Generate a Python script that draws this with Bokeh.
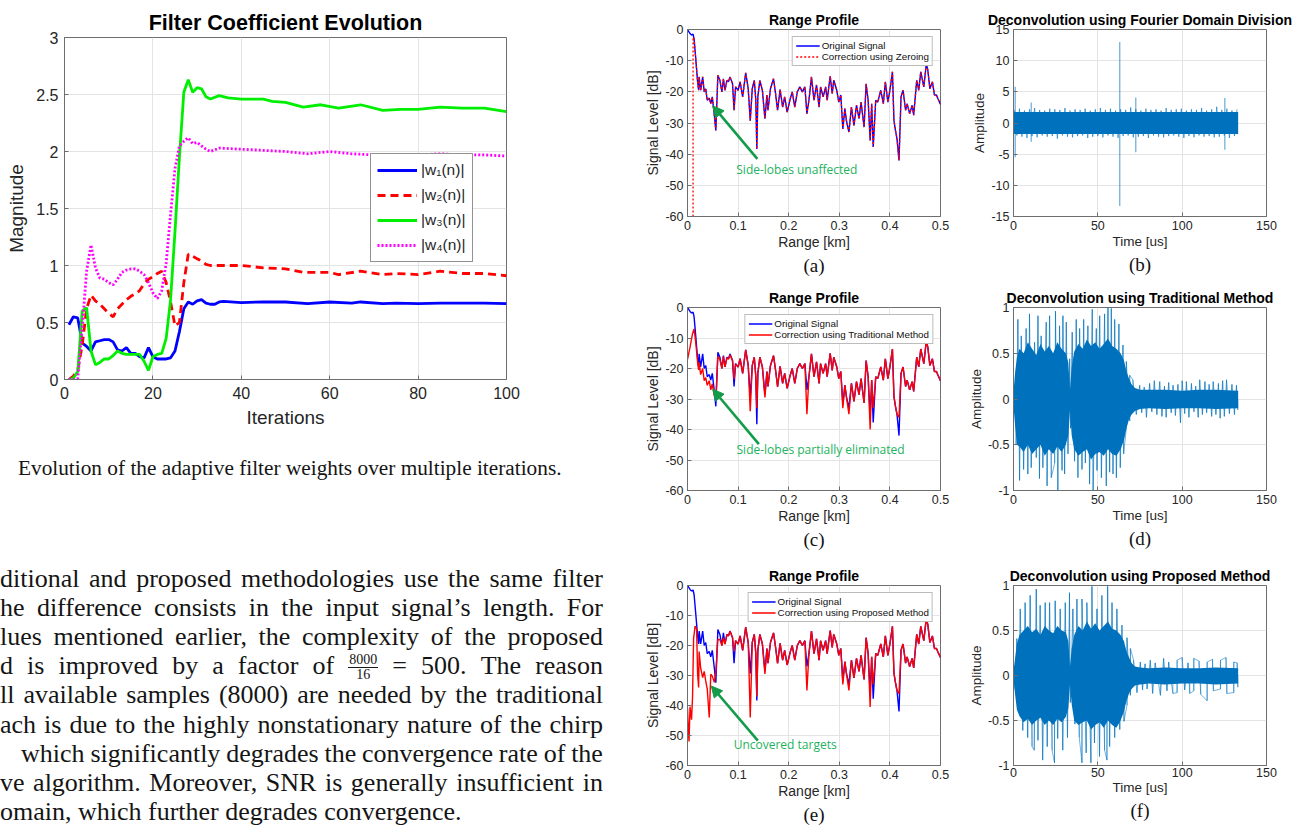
from bokeh.plotting import figure
from bokeh.layouts import row, column
from bokeh.models import FixedTicker, Arrow, NormalHead, Label, Title, Div, Range1d
from bokeh.embed import file_html
from bokeh.resources import INLINE

# ---------------- data: filter coefficient evolution ----------------
iter_ticks = [0, 20, 40, 60, 80, 100]
iter_tick_labels = ["0", "20", "40", "60", "80", "100"]
mag_ticks = [0, 0.5, 1, 1.5, 2, 2.5, 3]
mag_tick_labels = ["0", "0.5", "1", "1.5", "2", "2.5", "3"]
weight_labels = ["|w\u2081(n)|", "|w\u2082(n)|", "|w\u2083(n)|", "|w\u2084(n)|"]

w1_iter = [1, 2, 3, 4, 5, 6, 7, 8, 9, 10, 11, 12, 13, 14, 15, 16, 17, 18, 19, 20, 21, 22, 23, 24, 25,
           26, 27, 28, 29, 30, 31, 32, 33, 34, 35, 36, 40, 45, 50, 55, 60, 65, 67, 72, 75, 80, 85, 90, 95, 100]
w1_mag = [0.48, 0.55, 0.54, 0.32, 0.29, 0.25, 0.33, 0.34, 0.35, 0.35, 0.33, 0.26, 0.25, 0.28, 0.23, 0.23,
          0.20, 0.19, 0.28, 0.20, 0.18, 0.18, 0.18, 0.19, 0.25, 0.42, 0.62, 0.68, 0.66, 0.69, 0.70, 0.67,
          0.66, 0.66, 0.68, 0.685, 0.675, 0.68, 0.68, 0.665, 0.68, 0.67, 0.68, 0.665, 0.67, 0.665, 0.67,
          0.67, 0.67, 0.665]

w2_iter = [1, 2, 3, 4, 5, 6, 7, 8, 9, 10, 11, 12, 13, 14, 15, 16, 17, 18, 19, 20, 21, 22, 23, 24, 25,
           26, 27, 28, 29, 30, 31, 32, 33, 35, 40, 45, 50, 54, 60, 62, 67, 72, 75, 80, 85, 90, 95, 100]
w2_mag = [0.0, 0.03, 0.08, 0.3, 0.62, 0.74, 0.69, 0.66, 0.62, 0.58, 0.55, 0.62, 0.66, 0.7, 0.73, 0.75,
          0.78, 0.84, 0.88, 0.9, 0.93, 0.95, 0.85, 0.68, 0.47, 0.5, 0.85, 1.1, 1.08, 1.06, 1.04, 1.01,
          1.0, 1.0, 1.0, 0.98, 0.97, 0.94, 0.94, 0.92, 0.95, 0.92, 0.93, 0.92, 0.95, 0.93, 0.93, 0.91]

w3_iter = [1, 2, 3, 4, 5, 6, 7, 8, 9, 10, 11, 12, 13, 14, 15, 16, 17, 18, 19, 20, 21, 22, 23, 24, 25,
           26, 27, 28, 29, 30, 31, 32, 33, 35, 37, 40, 45, 47, 50, 54, 58, 62, 67, 72, 76, 80, 85, 90, 95, 100]
w3_mag = [0.0, 0.01, 0.07, 0.6, 0.63, 0.25, 0.13, 0.15, 0.18, 0.18, 0.21, 0.25, 0.23, 0.22, 0.22, 0.22,
          0.22, 0.16, 0.08, 0.2, 0.22, 0.23, 0.36, 0.7, 1.3, 1.95, 2.52, 2.63, 2.52, 2.56, 2.55, 2.48,
          2.46, 2.49, 2.47, 2.46, 2.46, 2.44, 2.43, 2.39, 2.41, 2.38, 2.41, 2.36, 2.37, 2.37, 2.39, 2.38,
          2.38, 2.35]

w4_iter = [1, 2, 3, 4, 5, 6, 7, 8, 9, 10, 11, 12, 13, 14, 15, 16, 17, 18, 19, 20, 21, 22, 23, 24, 25,
           26, 27, 28, 29, 30, 31, 32, 33, 35, 40, 45, 50, 55, 60, 65, 70, 75, 80, 85, 90, 95, 100]
w4_mag = [0.0, 0.0, 0.01, 0.45, 0.95, 1.18, 0.98, 0.89, 0.88, 0.85, 0.83, 0.88, 0.94, 0.96, 0.97, 0.97,
          0.95, 0.92, 0.85, 0.76, 0.71, 0.78, 1.02, 1.45, 1.85, 2.05, 2.09, 2.12, 2.07, 2.08, 2.05, 2.02,
          2.0, 2.03, 2.02, 2.01, 2.0, 1.98, 2.0, 1.98, 1.97, 1.97, 1.97, 1.98, 1.97, 1.97, 1.96]

# ---------------- data: range profiles ----------------
range_ticks = [0, 0.1, 0.2, 0.3, 0.4, 0.5]
range_tick_labels = ["0", "0.1", "0.2", "0.3", "0.4", "0.5"]
db_ticks = [-60, -50, -40, -30, -20, -10, 0]
db_tick_labels = ["-60", "-50", "-40", "-30", "-20", "-10", "0"]

orig_km = [0, 0.005, 0.008, 0.011, 0.013, 0.016, 0.02, 0.022, 0.023, 0.026,
           0.03, 0.033, 0.036, 0.039, 0.043, 0.046, 0.049, 0.053, 0.056, 0.06,
           0.064, 0.068, 0.071, 0.074, 0.078, 0.081, 0.084, 0.089, 0.092, 0.095,
           0.1, 0.104, 0.109, 0.115, 0.12, 0.124, 0.128, 0.132, 0.135, 0.137,
           0.139, 0.143, 0.148, 0.153, 0.157, 0.159, 0.164, 0.17, 0.174, 0.178,
           0.183, 0.188, 0.192, 0.197, 0.203, 0.207, 0.212, 0.217, 0.222, 0.227,
           0.232, 0.236, 0.24, 0.245, 0.25, 0.255, 0.26, 0.263, 0.268, 0.273,
           0.276, 0.282, 0.286, 0.289, 0.295, 0.299, 0.303, 0.307, 0.311, 0.314,
           0.319, 0.324, 0.329, 0.334, 0.339, 0.343, 0.349, 0.353, 0.357, 0.361,
           0.364, 0.367, 0.372, 0.376, 0.382, 0.387, 0.391, 0.396, 0.4, 0.405,
           0.408, 0.411, 0.414, 0.418, 0.422, 0.426, 0.431, 0.434, 0.439, 0.444,
           0.447, 0.453, 0.457, 0.461, 0.467, 0.472, 0.475, 0.479, 0.484, 0.488,
           0.492, 0.495, 0.5]
orig_db = [0, -1.3, -1.8, -1.5, -3, -8.8, -16.8, -19.5, -15.2, -19.5,
           -15.2, -20, -19, -22.7, -22, -23.8, -21.6, -27.5, -32.4, -14.7,
           -16.3, -20, -15.8, -19.5, -16.3, -16.8, -15.2, -17.4, -25.9, -18.4,
           -19.5, -16.8, -21.6, -13.9, -19, -29.3, -19, -16.3, -22.7, -38.3,
           -21.6, -16.3, -19.5, -28.6, -21, -25.9, -19, -15.8, -20.5, -25.9,
           -19.3, -24.9, -21.6, -26.5, -22.2, -20, -24.9, -20, -18.4, -20,
           -18.4, -27, -22.7, -15.2, -22.7, -17.8, -24.9, -18.4, -21.6, -18.4,
           -22.7, -15, -20.6, -16.3, -19.5, -23.3, -21, -31.9, -25.4, -29.2,
           -32.9, -24.9, -30.8, -24.3, -28.6, -23.3, -31.3, -17.4, -22.7, -35.6,
           -23.8, -37.7, -22.7, -23.3, -19.5, -23.8, -16.8, -23.3, -19.5, -13.6,
           -29.2, -32.4, -35, -42, -21.6, -19.5, -25.9, -23.8, -27, -24.3,
           -27.5, -16.3, -19.5, -13.6, -18.4, -10.9, -13.1, -19, -16.8, -21,
           -21, -22.2, -24]

# zeroing: first range cells set to floor, rest identical to original
zero_head_km = [0.011, 0.011]
zero_head_db = [-60, -2.5]

trad_head_km = [0, 0.005, 0.01, 0.013, 0.016]
trad_head_db = [-17, -13, -8.5, -7, -11]
trad_tail_db = [-18, -20.5, -18, -22,
                -20, -24, -23, -25.5, -24, -27, -25, -29, -30, -16,
                -17, -20, -16, -19.5, -16.5, -17, -15.5, -17.5, -23.5, -18.5,
                -19.5, -16.8, -21.6, -13.9, -19, -34, -19, -16.3, -22.7, -33,
                -21.6, -16.3, -19.5, -29.5, -21, -25.9, -19, -15.8, -20.5, -26,
                -19.3, -24.9, -21.6, -26.5, -22.2, -20, -24.9, -20, -18.4, -20,
                -18.4, -35, -22.7, -15.2, -22.7, -17.8, -24.9, -18.4, -21.6, -18.4,
                -22.7, -15, -20.6, -16.3, -19.5, -23.3, -21, -33, -25.4, -29.2,
                -35, -24.9, -30.8, -24.3, -28.6, -23.3, -31.3, -17.4, -22.7, -40,
                -23.8, -33, -22.7, -23.3, -19.5, -23.8, -16.8, -23.3, -19.5, -13.6,
                -29.2, -32.4, -35, -36, -21.6, -19.5, -25.9, -23.8, -27, -24.3,
                -27.5, -16.3, -19.5, -13.6, -18.4, -10.9, -13.1, -19, -16.8, -21,
                -21, -22.2, -24]

prop_head_km = [0, 0.002, 0.003, 0.005, 0.008, 0.01, 0.012, 0.015, 0.018]
prop_head_db = [-41, -49, -52, -40.4, -44.7, -37, -17.8, -13.5, -14.5]
prop_tail_db = [-29.6, -34, -22, -27.5,
                -30.7, -28.6, -31.8, -34.5, -44, -29.6, -30.2, -32.3, -29, -18,
                -18, -20, -17.5, -19.5, -16.3, -16.8, -15.2, -17.4, -22, -18.4,
                -19.5, -16.8, -21.6, -13.9, -19, -44, -19, -16.3, -22.7, -37,
                -21.6, -16.3, -19.5, -29.5, -21, -25.9, -19, -15.8, -20.5, -26,
                -19.3, -24.9, -21.6, -26.5, -22.2, -20, -24.9, -20, -18.4, -20,
                -18.4, -35, -22.7, -15.2, -22.7, -17.8, -24.9, -18.4, -21.6, -18.4,
                -22.7, -15, -20.6, -16.3, -19.5, -23.3, -21, -33, -25.4, -29.2,
                -35, -24.9, -30.8, -24.3, -28.6, -23.3, -31.3, -17.4, -22.7, -40.5,
                -23.8, -33, -22.7, -23.3, -19.5, -23.8, -16.8, -23.3, -19.5, -13.6,
                -29.2, -32.4, -35, -36, -21.6, -19.5, -25.9, -23.8, -27, -24.3,
                -27.5, -16.3, -19.5, -13.6, -18.4, -10.9, -13.1, -19, -16.8, -21,
                -21, -22.2, -24]

# ---------------- data: deconvolution outputs ----------------
time_ticks = [0, 50, 100, 150]
time_tick_labels = ["0", "50", "100", "150"]
fd_ticks = [-15, -10, -5, 0, 5, 10, 15]
fd_tick_labels = ["-15", "-10", "-5", "0", "5", "10", "15"]
amp_ticks = [-1, -0.5, 0, 0.5, 1]
amp_tick_labels = ["-1", "-0.5", "0", "0.5", "1"]

fd_core_t = [0, 133.2]
fd_core_hi = [1.75, 1.75]
fd_core_lo = [-1.75, -1.75]
fd_up_t = [0.5 + 3 * i for i in range(45)]
fd_up_v = [2.1, 2.3, 2.0, 2.2, 2.4, 2.1, 2.0, 2.3, 2.2, 2.1, 2.4, 2.0, 2.2, 2.1, 2.3,
           2.0, 2.2, 2.4, 2.1, 2.3, 2.0, 2.2, 2.1, 2.5, 2.2, 2.0, 2.3, 2.1, 2.2, 2.0,
           2.4, 2.1, 2.2, 2.3, 2.0, 2.2, 2.1, 2.4, 2.0, 2.2, 2.6, 2.1, 2.3, 2.0, 2.2]
fd_lo_t = [2.0 + 3 * i for i in range(44)]
fd_lo_v = [-2.0, -2.2, -2.4, -2.1, -2.3, -2.0, -2.2, -2.1, -2.5, -2.0, -2.2, -2.3, -2.1, -2.0, -2.4,
           -2.2, -2.1, -2.3, -2.0, -2.2, -2.4, -2.1, -2.0, -2.3, -2.2, -2.1, -2.4, -2.0, -2.2, -2.3,
           -2.1, -2.0, -2.2, -2.4, -2.1, -2.3, -2.0, -2.2, -2.1, -2.3, -2.2, -2.0, -2.4, -2.1]
fd_spike_t = [1, 10.5, 63, 72.5, 125.3]
fd_spike_hi = [5.8, 3.3, 13, 4.1, 4.0]
fd_spike_lo = [-5.5, -3.0, -13.3, -4.7, -4.3]

core_t = [0, 1, 2, 3.5, 6, 8.5, 11, 13.5, 16, 18.5, 21, 23.5, 26, 28.5, 31, 32.5, 33.5, 34.5, 36,
          38.5, 41, 43.5, 46, 48.5, 51, 53.5, 56, 58.5, 61, 63.5, 65.5, 67, 68.5, 70, 72, 75, 80,
          90, 100, 110, 120, 133.2]
trad_core_hi = [0.08, 0.3, 0.45, 0.55, 0.5, 0.62, 0.55, 0.48, 0.6, 0.52, 0.58, 0.5, 0.62, 0.55,
                0.5, 0.4, 0.1, 0.35, 0.52, 0.6, 0.55, 0.65, 0.58, 0.62, 0.55, 0.6, 0.66, 0.58, 0.55,
                0.5, 0.42, 0.3, 0.22, 0.16, 0.12, 0.1, 0.1, 0.1, 0.09, 0.1, 0.1, 0.09]
trad_core_lo = [-0.08, -0.3, -0.5, -0.52, -0.58, -0.5, -0.6, -0.55, -0.5, -0.62, -0.55, -0.6,
                -0.52, -0.58, -0.5, -0.4, -0.12, -0.4, -0.55, -0.62, -0.58, -0.55, -0.66, -0.6,
                -0.58, -0.62, -0.55, -0.6, -0.62, -0.55, -0.45, -0.32, -0.22, -0.17, -0.13, -0.11,
                -0.1, -0.11, -0.1, -0.1, -0.11, -0.1]
trad_up_t = [2.6, 4.6, 7.5, 9.5, 12.5, 14.5, 16.4, 19.4, 21.4, 24.9, 27.3, 29.3, 31.3, 33.3, 34.8,
             37.2, 39.2, 41.6, 44.1, 46.7, 49.1, 51.1, 54, 56, 58, 60, 62.5, 64.9, 66.9, 68.9, 70.8,
             74.8, 77.5, 80.7, 83.5, 86.7, 89.5, 92, 94.6, 97.5, 100, 102.5, 105.5, 108, 110.4,
             113.5, 116, 118.4, 121.5, 124, 126.3, 129.5, 132.2]
trad_up_v = [0.87, 0.69, 0.77, 0.93, 0.62, 0.91, 0.69, 0.84, 0.91, 0.96, 0.80, 0.91, 0.84, 0.44, 0.73,
             0.87, 0.77, 0.87, 0.80, 0.98, 0.77, 0.91, 0.93, 1.0, 0.99, 0.87, 0.82, 0.59, 0.41, 0.26,
             0.21, 0.15, 0.13, 0.17, 0.2, 0.19, 0.14, 0.18, 0.15, 0.16, 0.2, 0.19, 0.17, 0.14, 0.21,
             0.19, 0.16, 0.19, 0.17, 0.2, 0.21, 0.16, 0.15]
trad_lo_t = [1.5, 3.6, 6.0, 8.5, 10.5, 13.5, 15.4, 17.4, 19.9, 22.4, 24.4, 26.3, 28.8, 30.3, 32.3,
             33.8, 36.2, 38.2, 40.6, 42.6, 45.1, 47.2, 49.5, 52.1, 55, 57, 59, 61, 63.3, 65.3, 66.9,
             68.9, 72.8, 76, 78.8, 82, 85, 88, 90.5, 93.5, 96, 99, 101.5, 104, 107, 109.5, 112,
             114.5, 117.5, 120, 122.5, 125, 128, 131, 133]
trad_lo_v = [-0.5, -0.89, -0.77, -0.82, -0.75, -0.64, -0.87, -0.75, -0.95, -0.86, -0.7, -1.0, -0.78,
             -0.82, -0.6, -0.32, -0.68, -0.86, -0.77, -0.7, -0.93, -1.0, -0.78, -0.86, -0.95, -0.8,
             -0.82, -0.86, -0.75, -0.6, -0.32, -0.24, -0.17, -0.15, -0.2, -0.14, -0.17, -0.19, -0.2,
             -0.15, -0.18, -0.26, -0.16, -0.2, -0.14, -0.2, -0.17, -0.15, -0.19, -0.17, -0.21, -0.19,
             -0.16, -0.17, -0.12]

prop_core_hi = [0.05, 0.2, 0.35, 0.45, 0.5, 0.55, 0.48, 0.52, 0.45, 0.55, 0.5, 0.47, 0.55, 0.5,
                0.48, 0.38, 0.1, 0.3, 0.45, 0.55, 0.5, 0.6, 0.52, 0.58, 0.5, 0.55, 0.6, 0.52, 0.5,
                0.45, 0.38, 0.27, 0.2, 0.14, 0.1, 0.09, 0.08, 0.09, 0.08, 0.08, 0.09, 0.08]
prop_core_lo = [-0.05, -0.22, -0.38, -0.45, -0.52, -0.48, -0.55, -0.5, -0.47, -0.55, -0.5, -0.55,
                -0.48, -0.52, -0.46, -0.36, -0.1, -0.32, -0.5, -0.55, -0.52, -0.5, -0.6, -0.55,
                -0.52, -0.58, -0.5, -0.55, -0.58, -0.5, -0.4, -0.28, -0.2, -0.15, -0.11, -0.1,
                -0.09, -0.1, -0.09, -0.09, -0.1, -0.09]
prop_up_t = [2, 4, 6.9, 9.9, 13.5, 15.8, 18.8, 21.4, 24.7, 27.7, 30.7, 33.2, 35.2, 37.6, 40.6, 43.5,
             46.5, 49.5, 52.4, 55.8, 58.4, 61.3, 64.3, 67.3, 69.3, 71.2, 75.2, 78, 81.1, 84, 89, 92,
             97, 100, 103.5, 106.9, 110, 114.8, 118, 122.7, 126, 130.6, 132.6]
prop_up_v = [0.41, 0.74, 0.81, 0.89, 0.96, 0.78, 0.81, 0.81, 0.83, 0.74, 0.81, 0.92, 0.74, 0.85, 0.85,
             0.81, 0.99, 0.74, 0.89, 0.99, 0.81, 0.74, 0.56, 0.42, 0.3, 0.17, 0.15, 0.13, 0.17, 0.14,
             0.19, 0.15, 0.17, 0.2, 0.14, 0.19, 0.16, 0.15, 0.18, 0.17, 0.2, 0.15, 0.14]
prop_lo_t = [1, 3, 5.5, 8.4, 11, 12.3, 14.5, 17.3, 20, 22.9, 24.3, 26.2, 29.2, 32, 33.7, 36.4, 39,
             40.6, 43.1, 45.9, 48, 51, 54, 55.4, 57, 60, 63, 65.5, 67.3, 69.3, 73.2, 76.5, 79.2, 82.5,
             87.1, 91, 94.5, 97, 101.5, 104.5, 106.9, 111, 114.8, 118.5, 122.7, 126.5, 130.6, 133]
prop_lo_v = [-0.15, -0.4, -0.61, -0.69, -0.79, -0.83, -0.72, -0.94, -0.79, -0.83, -0.97, -0.7, -0.83,
             -0.69, -0.3, -0.54, -0.69, -0.97, -0.86, -0.97, -0.75, -0.9, -0.83, -0.94, -0.79, -0.69,
             -0.6, -0.51, -0.33, -0.22, -0.19, -0.16, -0.15, -0.2, -0.22, -0.17, -0.2, -0.19, -0.16,
             -0.2, -0.17, -0.21, -0.28, -0.17, -0.15, -0.2, -0.19, -0.13]

# ---------------- text ----------------
caption = "Evolution of the adaptive filter weights over multiple iterations."
para_lines = [
    "ditional and proposed methodologies use the same filter",
    "he difference consists in the input signal\u2019s length. For",
    "lues mentioned earlier, the complexity of the proposed",
    "d is improved by a factor of {FRAC} = 500. The reason",
    "ll available samples (8000) are needed by the traditional",
    "ach is due to the highly nonstationary nature of the chirp",
    "which significantly degrades the convergence rate of the",
    "ve algorithm. Moreover, SNR is generally insufficient in",
    "omain, which further degrades convergence.",
]

# ---------------- styling helpers ----------------
SANS = "Liberation Sans"
SERIF = "Liberation Serif"
INK = "#262626"
BOX = "#6e6e6e"
GRID = "#e4e4e4"
MBLUE = "#0072BD"
G_ARROW = "#129c4a"
G_TEXT = "#22b35c"


def make_fig(w, h, bl, br, bt, bb, xr, yr, title, title_fs, tick_fs, lab_fs,
             xt, xtl, yt, ytl, xlab, ylab, tick_standoff=4, label_standoff=1):
    p = figure(width=w, height=h, x_range=Range1d(*xr), y_range=Range1d(*yr),
               output_backend="svg", toolbar_location=None,
               min_border_left=bl, min_border_right=br, min_border_top=bt, min_border_bottom=bb)
    p.title.text = title
    p.title.align = "center"
    p.title.text_font = SANS
    p.title.text_font_size = title_fs
    p.title.text_font_style = "bold"
    p.title.text_color = "#000000"
    p.title.standoff = 3
    p.background_fill_color = "white"
    p.border_fill_color = "white"
    p.outline_line_color = BOX
    p.outline_line_width = 1
    p.outline_line_alpha = 1
    for ax in (p.xaxis[0], p.yaxis[0]):
        ax.axis_line_color = BOX
        ax.major_tick_in = 4
        ax.major_tick_out = 0
        ax.major_tick_line_color = BOX
        ax.minor_tick_line_color = None
        ax.major_label_text_font = SANS
        ax.major_label_text_font_size = tick_fs
        ax.major_label_text_color = INK
        ax.major_label_standoff = 4
        ax.axis_label_text_font = SANS
        ax.axis_label_text_font_style = "normal"
        ax.axis_label_text_font_size = lab_fs
        ax.axis_label_text_color = INK
        ax.axis_label_standoff = 1
    p.xaxis.major_label_standoff = tick_standoff
    p.xaxis.axis_label_standoff = label_standoff
    p.xaxis.ticker = FixedTicker(ticks=xt)
    p.xaxis.major_label_overrides = {t: s for t, s in zip(xt, xtl)}
    p.yaxis.ticker = FixedTicker(ticks=yt)
    p.yaxis.major_label_overrides = {t: s for t, s in zip(yt, ytl)}
    p.xaxis.axis_label = xlab
    p.yaxis.axis_label = ylab
    p.xgrid.grid_line_color = GRID
    p.ygrid.grid_line_color = GRID
    return p


def add_tag(p, tag):
    p.add_layout(Title(text=tag, align="center", text_font=SERIF, text_font_size="19px",
                       text_font_style="normal", text_color="#111111", standoff=0), "below")


def zigzag(tu, vu, tl, vl):
    pts = sorted(list(zip(tu, vu)) + list(zip(tl, vl)))
    return [a for a, _ in pts], [b for _, b in pts]


# ---------------- left chart ----------------
pL = make_fig(640, 440, 64, 134, 37, 61, (0, 100), (0, 3), "Filter Coefficient Evolution", "21.5px",
              "16px", "19px", iter_ticks, iter_tick_labels, mag_ticks, mag_tick_labels,
              "Iterations", "Magnitude", tick_standoff=7, label_standoff=5)
pL.yaxis.major_label_standoff = 6
pL.yaxis.axis_label_standoff = 6
pL.title.standoff = 6
pL.line(w1_iter, w1_mag, line_color="#0000ff", line_width=2.8, legend_label=weight_labels[0])
pL.line(w2_iter, w2_mag, line_color="#ff0000", line_width=2.8, line_dash="8 5", legend_label=weight_labels[1])
pL.line(w3_iter, w3_mag, line_color="#00ee00", line_width=2.8, legend_label=weight_labels[2])
pL.line(w4_iter, w4_mag, line_color="#ff00ff", line_width=2.8, line_dash="2 2", legend_label=weight_labels[3])
lg = pL.legend[0]
lg.location = (306, 117)
lg.border_line_color = INK
lg.border_line_width = 1
lg.background_fill_color = "white"
lg.background_fill_alpha = 1
lg.label_text_font = SANS
lg.label_text_font_size = "15.5px"
lg.label_text_color = INK
lg.glyph_width = 40
lg.glyph_height = 20
lg.label_height = 20
lg.spacing = 5
lg.padding = 6
lg.label_standoff = 4
lg.margin = 0


# ---------------- range profile panels ----------------
def build_range(height, bt, bb, tag):
    p = make_fig(320, height, 47, 20, bt, bb, (0, 0.5), (-60, 0),
                 "Range Profile", "14px", "12.5px", "14px", range_ticks, range_tick_labels,
                 db_ticks, db_tick_labels, "Range [km]", "Signal Level [dB]")
    add_tag(p, tag)
    return p


def style_small_legend(p):
    lg = p.legend[0]
    lg.location = "top_right"
    lg.margin = 7
    lg.padding = 3
    lg.spacing = 0
    lg.glyph_width = 24
    lg.glyph_height = 11
    lg.label_height = 11
    lg.label_standoff = 2
    lg.label_text_font = SANS
    lg.label_text_font_size = "9.8px"
    lg.label_text_color = "#111111"
    lg.border_line_color = "#7a7a7a"
    lg.background_fill_alpha = 1


def annotate(p, x0, y0, x1, y1, tx, ty, text):
    p.add_layout(Arrow(end=NormalHead(size=11, fill_color=G_ARROW, line_color=G_ARROW),
                       x_start=x0, y_start=y0, x_end=x1, y_end=y1,
                       line_color=G_ARROW, line_width=2.6))
    p.add_layout(Label(x=tx, y=ty, text=text, text_align="center", text_baseline="middle",
                       text_font="Open Sans", text_font_size="12px", text_color=G_TEXT))


pa = build_range(280, 29, 64, "(a)")
pa.line(orig_km, orig_db, line_color="#0000ff", line_width=1.4, legend_label="Original Signal")
pa.line(zero_head_km + orig_km[4:], zero_head_db + orig_db[4:], line_color="#ff0000",
        line_width=1.3, line_dash="2 2", legend_label="Correction using Zeroing")
style_small_legend(pa)
annotate(pa, 0.138, -41.5, 0.05, -24.5, 0.216, -45, "Side-lobes unaffected")

pc = build_range(275, 27, 61, "(c)")
pc.line(orig_km, orig_db, line_color="#0000ff", line_width=1.4, legend_label="Original Signal")
pc.line(trad_head_km + orig_km[6:], trad_head_db + trad_tail_db, line_color="#ff0000",
        line_width=1.4, legend_label="Correction using Traditional Method")
style_small_legend(pc)
annotate(pc, 0.141, -44.8, 0.05, -26.8, 0.263, -46.4, "Side-lobes partially eliminated")

pe = build_range(276, 25, 66, "(e)")
pe.line(orig_km, orig_db, line_color="#0000ff", line_width=1.4, legend_label="Original Signal")
pe.line(prop_head_km + orig_km[6:], prop_head_db + prop_tail_db, line_color="#ff0000",
        line_width=1.4, legend_label="Correction using Proposed Method")
style_small_legend(pe)
annotate(pe, 0.139, -51.7, 0.047, -33.5, 0.193, -53.1, "Uncovered targets")


# ---------------- deconvolution panels ----------------
def build_deconv(height, bt, bb, yr, yt, ytl, title, tag, tick_standoff=4, label_standoff=1):
    p = make_fig(341, height, 53, 35, bt, bb, (0, 150), yr, title, "14px", "12.5px", "13.5px",
                 time_ticks, time_tick_labels, yt, ytl, "Time [us]", "Amplitude",
                 tick_standoff=tick_standoff, label_standoff=label_standoff)
    add_tag(p, tag)
    return p


def draw_noise(p, tu, vu, tl, vl, ct, chi, clo):
    p.segment(x0=tu + tl, y0=[0] * (len(tu) + len(tl)), x1=tu + tl, y1=vu + vl,
              line_color=MBLUE, line_width=1, line_alpha=0.55)
    zx, zy = zigzag(tu, vu, tl, vl)
    p.line(zx, zy, line_color=MBLUE, line_width=1, line_alpha=0.55)
    p.varea(x=ct, y1=clo, y2=chi, fill_color=MBLUE)


pb = build_deconv(280, 29, 64, (-15, 15), fd_ticks, fd_tick_labels,
                  "Deconvolution using Fourier Domain Division", "(b)")
zx, zy = zigzag(fd_up_t, fd_up_v, fd_lo_t, fd_lo_v)
pb.line(zx, zy, line_color=MBLUE, line_width=1, line_alpha=0.6)
pb.segment(x0=fd_spike_t, y0=fd_spike_lo, x1=fd_spike_t, y1=fd_spike_hi,
           line_color=MBLUE, line_width=1.2, line_alpha=0.6)
pb.varea(x=fd_core_t, y1=fd_core_lo, y2=fd_core_hi, fill_color=MBLUE)

pd = build_deconv(275, 25, 65, (-1, 1), amp_ticks, amp_tick_labels,
                  "Deconvolution using Traditional Method", "(d)")
draw_noise(pd, trad_up_t, trad_up_v, trad_lo_t, trad_lo_v, core_t, trad_core_hi, trad_core_lo)

pf = build_deconv(276, 30, 60, (-1, 1), amp_ticks, amp_tick_labels,
                  "Deconvolution using Proposed Method", "(f)", tick_standoff=2, label_standoff=0)
draw_noise(pf, prop_up_t, prop_up_v, prop_lo_t, prop_lo_v, core_t, prop_core_hi, prop_core_lo)

# ---------------- text block ----------------
FRAC = ('<span style="display:inline-flex;flex-direction:column;align-items:center;'
        'font-size:14px;line-height:14px;vertical-align:middle">'
        '<span style="border-bottom:1px solid #1a1a1a;padding:0 1px">8000</span>'
        '<span>16</span></span>')

parts = ['<div style="position:relative;width:640px;height:391px;overflow:hidden;'
         'font-family:\'Liberation Serif\';color:#151515">']
parts.append('<div style="position:absolute;left:18px;top:15px;font-size:21.3px;line-height:26px;'
             'white-space:nowrap">%s</div>' % caption)
for i, line in enumerate(para_lines):
    top = 124 + 29.1 * i
    left = 21 if line.startswith("which") else 0
    width = 603 - left
    if i == len(para_lines) - 1:
        parts.append('<div style="position:absolute;left:%dpx;top:%.1fpx;font-size:26px;'
                     'line-height:29px;white-space:nowrap">%s</div>' % (left, top, line))
    else:
        words = "".join("<span>%s</span>" % (FRAC if w == "{FRAC}" else w) for w in line.split(" "))
        parts.append('<div style="position:absolute;left:%dpx;top:%.1fpx;width:%dpx;height:29px;'
                     'font-size:26px;line-height:29px;display:flex;justify-content:space-between;'
                     'align-items:center;white-space:nowrap">%s</div>' % (left, top, width, words))
parts.append('</div>')
text_div = Div(text="".join(parts), width=640, height=391, margin=0)

left_col = column(pL, text_div, spacing=0)
right_col = column(row(pa, pb, spacing=0), row(pc, pd, spacing=0), row(pe, pf, spacing=0), spacing=0)
root = row(left_col, right_col, spacing=0)

open("out.html", "w").write(file_html(root, INLINE))
